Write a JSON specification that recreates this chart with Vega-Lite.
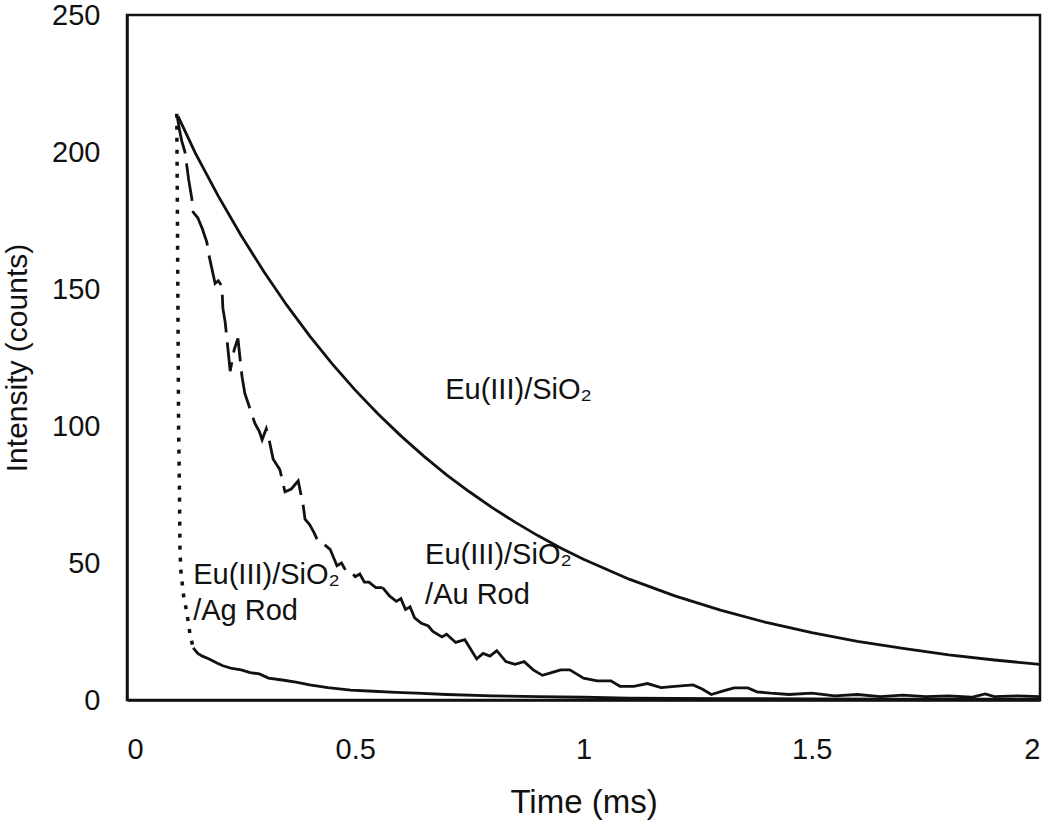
{
  "$schema": "https://vega.github.io/schema/vega-lite/v6.json",
  "width": 913,
  "height": 685,
  "autosize": "none",
  "padding": {"left": 127, "top": 15, "right": 10, "bottom": 124},
  "background": "white",
  "config": {
    "font": "Liberation Sans",
    "view": {"stroke": "#111", "strokeWidth": 2.5},
    "axis": {"grid": false, "domainColor": "#111", "domainWidth": 2.5, "ticks": false,
      "labelFont": "Liberation Sans", "titleFont": "Liberation Sans", "labelColor": "#111", "titleColor": "#111",
      "labelFontSize": 29, "titleFontSize": 33, "titleFontWeight": "normal"}
  },
  "datasets": {
    "curves": [
      {"series": "SiO2", "t": 0.112, "v": 213},
      {"series": "SiO2", "t": 0.15, "v": 199.5},
      {"series": "SiO2", "t": 0.2, "v": 183.9},
      {"series": "SiO2", "t": 0.25, "v": 169.5},
      {"series": "SiO2", "t": 0.3, "v": 156.3},
      {"series": "SiO2", "t": 0.35, "v": 144.1},
      {"series": "SiO2", "t": 0.4, "v": 132.9},
      {"series": "SiO2", "t": 0.45, "v": 122.6},
      {"series": "SiO2", "t": 0.5, "v": 113.1},
      {"series": "SiO2", "t": 0.55, "v": 104.4},
      {"series": "SiO2", "t": 0.6, "v": 96.4},
      {"series": "SiO2", "t": 0.65, "v": 89.0},
      {"series": "SiO2", "t": 0.7, "v": 82.2},
      {"series": "SiO2", "t": 0.75, "v": 76.0},
      {"series": "SiO2", "t": 0.8, "v": 70.2},
      {"series": "SiO2", "t": 0.85, "v": 64.9},
      {"series": "SiO2", "t": 0.9, "v": 60.0},
      {"series": "SiO2", "t": 0.95, "v": 55.5},
      {"series": "SiO2", "t": 1.0, "v": 51.4},
      {"series": "SiO2", "t": 1.1, "v": 44.1},
      {"series": "SiO2", "t": 1.2, "v": 38.0},
      {"series": "SiO2", "t": 1.3, "v": 32.8},
      {"series": "SiO2", "t": 1.4, "v": 28.3},
      {"series": "SiO2", "t": 1.5, "v": 24.6},
      {"series": "SiO2", "t": 1.6, "v": 21.4},
      {"series": "SiO2", "t": 1.7, "v": 18.8},
      {"series": "SiO2", "t": 1.8, "v": 16.5},
      {"series": "SiO2", "t": 1.9, "v": 14.6},
      {"series": "SiO2", "t": 2.0, "v": 13.0},

      {"series": "Au", "t": 0.11, "v": 213},
      {"series": "Au", "t": 0.115, "v": 208},
      {"series": "Au", "t": 0.12, "v": 204},
      {"series": "Au", "t": 0.127, "v": 200},
      {"series": "Au", "t": 0.135, "v": 190},
      {"series": "Au", "t": 0.142, "v": 183},
      {"series": "Au", "t": 0.145, "v": 178},
      {"series": "Au", "t": 0.155, "v": 176},
      {"series": "Au", "t": 0.165, "v": 172},
      {"series": "Au", "t": 0.175, "v": 167},
      {"series": "Au", "t": 0.18, "v": 162},
      {"series": "Au", "t": 0.193, "v": 152},
      {"series": "Au", "t": 0.2, "v": 153},
      {"series": "Au", "t": 0.208, "v": 151},
      {"series": "Au", "t": 0.21, "v": 143},
      {"series": "Au", "t": 0.215, "v": 138},
      {"series": "Au", "t": 0.22, "v": 130},
      {"series": "Au", "t": 0.226, "v": 120},
      {"series": "Au", "t": 0.235, "v": 128},
      {"series": "Au", "t": 0.243, "v": 132},
      {"series": "Au", "t": 0.248, "v": 124},
      {"series": "Au", "t": 0.252, "v": 118},
      {"series": "Au", "t": 0.258, "v": 112},
      {"series": "Au", "t": 0.27, "v": 106},
      {"series": "Au", "t": 0.28, "v": 101},
      {"series": "Au", "t": 0.29, "v": 98},
      {"series": "Au", "t": 0.296, "v": 95},
      {"series": "Au", "t": 0.305, "v": 99},
      {"series": "Au", "t": 0.31, "v": 96},
      {"series": "Au", "t": 0.32, "v": 88},
      {"series": "Au", "t": 0.335, "v": 84},
      {"series": "Au", "t": 0.346, "v": 76},
      {"series": "Au", "t": 0.36, "v": 77},
      {"series": "Au", "t": 0.375, "v": 80},
      {"series": "Au", "t": 0.386, "v": 71},
      {"series": "Au", "t": 0.39, "v": 66},
      {"series": "Au", "t": 0.4, "v": 64},
      {"series": "Au", "t": 0.41, "v": 61},
      {"series": "Au", "t": 0.418, "v": 58},
      {"series": "Au", "t": 0.43, "v": 57},
      {"series": "Au", "t": 0.445, "v": 55},
      {"series": "Au", "t": 0.46, "v": 49},
      {"series": "Au", "t": 0.47, "v": 50},
      {"series": "Au", "t": 0.48, "v": 47},
      {"series": "Au", "t": 0.49, "v": 47},
      {"series": "Au", "t": 0.5, "v": 45},
      {"series": "Au", "t": 0.51, "v": 46},
      {"series": "Au", "t": 0.52, "v": 43},
      {"series": "Au", "t": 0.53, "v": 43},
      {"series": "Au", "t": 0.545, "v": 41},
      {"series": "Au", "t": 0.56, "v": 41},
      {"series": "Au", "t": 0.575, "v": 38},
      {"series": "Au", "t": 0.59, "v": 36},
      {"series": "Au", "t": 0.6, "v": 37},
      {"series": "Au", "t": 0.61, "v": 33},
      {"series": "Au", "t": 0.62, "v": 34},
      {"series": "Au", "t": 0.63, "v": 30},
      {"series": "Au", "t": 0.645, "v": 28},
      {"series": "Au", "t": 0.66, "v": 27},
      {"series": "Au", "t": 0.67, "v": 25},
      {"series": "Au", "t": 0.69, "v": 23},
      {"series": "Au", "t": 0.7, "v": 24},
      {"series": "Au", "t": 0.72, "v": 21},
      {"series": "Au", "t": 0.74, "v": 22},
      {"series": "Au", "t": 0.755, "v": 18},
      {"series": "Au", "t": 0.766, "v": 15},
      {"series": "Au", "t": 0.78, "v": 17},
      {"series": "Au", "t": 0.795, "v": 16},
      {"series": "Au", "t": 0.81, "v": 18},
      {"series": "Au", "t": 0.83, "v": 14},
      {"series": "Au", "t": 0.85, "v": 13},
      {"series": "Au", "t": 0.87, "v": 14},
      {"series": "Au", "t": 0.89, "v": 11},
      {"series": "Au", "t": 0.91, "v": 9},
      {"series": "Au", "t": 0.93, "v": 10},
      {"series": "Au", "t": 0.95, "v": 11},
      {"series": "Au", "t": 0.97, "v": 11},
      {"series": "Au", "t": 0.99, "v": 9},
      {"series": "Au", "t": 1.0, "v": 8},
      {"series": "Au", "t": 1.03, "v": 7},
      {"series": "Au", "t": 1.06, "v": 7},
      {"series": "Au", "t": 1.08, "v": 5},
      {"series": "Au", "t": 1.11, "v": 5},
      {"series": "Au", "t": 1.14, "v": 6},
      {"series": "Au", "t": 1.17, "v": 4.5},
      {"series": "Au", "t": 1.2, "v": 5},
      {"series": "Au", "t": 1.24, "v": 5.5},
      {"series": "Au", "t": 1.26, "v": 4},
      {"series": "Au", "t": 1.28, "v": 2},
      {"series": "Au", "t": 1.31, "v": 3.5},
      {"series": "Au", "t": 1.33, "v": 4.4},
      {"series": "Au", "t": 1.36, "v": 4.4},
      {"series": "Au", "t": 1.38, "v": 3},
      {"series": "Au", "t": 1.41, "v": 2.5},
      {"series": "Au", "t": 1.45, "v": 2},
      {"series": "Au", "t": 1.5, "v": 2.5},
      {"series": "Au", "t": 1.55, "v": 1.5},
      {"series": "Au", "t": 1.6, "v": 2},
      {"series": "Au", "t": 1.65, "v": 1.2},
      {"series": "Au", "t": 1.7, "v": 1.8},
      {"series": "Au", "t": 1.75, "v": 1.2},
      {"series": "Au", "t": 1.8, "v": 1.5},
      {"series": "Au", "t": 1.85, "v": 1},
      {"series": "Au", "t": 1.88, "v": 2.2},
      {"series": "Au", "t": 1.9, "v": 1.2},
      {"series": "Au", "t": 1.95, "v": 1.5},
      {"series": "Au", "t": 2.0, "v": 1.2},

      {"series": "Ag", "t": 0.109, "v": 214},
      {"series": "Ag", "t": 0.11, "v": 190},
      {"series": "Ag", "t": 0.111, "v": 160},
      {"series": "Ag", "t": 0.112, "v": 130},
      {"series": "Ag", "t": 0.113, "v": 100},
      {"series": "Ag", "t": 0.115, "v": 75},
      {"series": "Ag", "t": 0.116, "v": 55},
      {"series": "Ag", "t": 0.118, "v": 47},
      {"series": "Ag", "t": 0.124, "v": 38},
      {"series": "Ag", "t": 0.131, "v": 32},
      {"series": "Ag", "t": 0.138, "v": 24},
      {"series": "Ag", "t": 0.145, "v": 19},
      {"series": "Ag", "t": 0.155, "v": 17},
      {"series": "Ag", "t": 0.165, "v": 16},
      {"series": "Ag", "t": 0.18, "v": 15},
      {"series": "Ag", "t": 0.197, "v": 13.5},
      {"series": "Ag", "t": 0.21, "v": 12.5},
      {"series": "Ag", "t": 0.23, "v": 11.5},
      {"series": "Ag", "t": 0.25, "v": 11},
      {"series": "Ag", "t": 0.27, "v": 10},
      {"series": "Ag", "t": 0.29, "v": 9.5},
      {"series": "Ag", "t": 0.31, "v": 8},
      {"series": "Ag", "t": 0.34, "v": 7.3},
      {"series": "Ag", "t": 0.37, "v": 6.5},
      {"series": "Ag", "t": 0.4, "v": 5.5},
      {"series": "Ag", "t": 0.44, "v": 4.5},
      {"series": "Ag", "t": 0.49, "v": 3.6},
      {"series": "Ag", "t": 0.54, "v": 3.2},
      {"series": "Ag", "t": 0.59, "v": 2.8},
      {"series": "Ag", "t": 0.635, "v": 2.5},
      {"series": "Ag", "t": 0.7, "v": 2.0},
      {"series": "Ag", "t": 0.8, "v": 1.5},
      {"series": "Ag", "t": 0.9, "v": 1.2},
      {"series": "Ag", "t": 1.0, "v": 1.0},
      {"series": "Ag", "t": 1.1, "v": 0.7},
      {"series": "Ag", "t": 1.3, "v": 0.5},
      {"series": "Ag", "t": 1.5, "v": 0.4},
      {"series": "Ag", "t": 1.7, "v": 0.3},
      {"series": "Ag", "t": 2.0, "v": 0.3}
    ],
    "labels": [
      {"text": "Eu(III)/SiO₂", "t": 0.697, "v": 113},
      {"text": "Eu(III)/SiO₂", "t": 0.653, "v": 53},
      {"text": "/Au Rod", "t": 0.653, "v": 38.3},
      {"text": "Eu(III)/SiO₂", "t": 0.145, "v": 45.6},
      {"text": "/Ag Rod", "t": 0.145, "v": 32.5}
    ]
  },
  "encoding": {
    "x": {"field": "t", "type": "quantitative", "scale": {"domain": [0, 2], "nice": false},
      "axis": {"values": [0, 0.5, 1, 1.5, 2], "labelExpr": "datum.value", "title": "Time (ms)", "labelPadding": 35, "titlePadding": 22}},
    "y": {"field": "v", "type": "quantitative", "scale": {"domain": [0, 250], "nice": false},
      "axis": {"values": [0, 50, 100, 150, 200, 250], "title": "Intensity (counts)", "titleFontSize": 30, "labelPadding": 27, "titlePadding": 19}}
  },
  "layer": [
    {"data": {"name": "curves"}, "transform": [{"filter": "datum.series == 'SiO2'"}],
      "mark": {"type": "line", "color": "#111", "strokeWidth": 2.8}, "encoding": {"order": {"field": "t"}}},
    {"data": {"name": "curves"}, "transform": [{"filter": "datum.series == 'Au' && datum.t <= 0.56"}],
      "mark": {"type": "line", "color": "#111", "strokeWidth": 2.8, "strokeDash": [38, 10]}, "encoding": {"order": {"field": "t"}}},
    {"data": {"name": "curves"}, "transform": [{"filter": "datum.series == 'Au' && datum.t >= 0.56"}],
      "mark": {"type": "line", "color": "#111", "strokeWidth": 2.8}, "encoding": {"order": {"field": "t"}}},
    {"data": {"name": "curves"}, "transform": [{"filter": "datum.series == 'Ag' && datum.t <= 0.145"}],
      "mark": {"type": "line", "color": "#111", "strokeWidth": 3.5, "strokeDash": [4, 8]}, "encoding": {"order": {"field": "t"}}},
    {"data": {"name": "curves"}, "transform": [{"filter": "datum.series == 'Ag' && datum.t >= 0.145"}],
      "mark": {"type": "line", "color": "#111", "strokeWidth": 2.8}, "encoding": {"order": {"field": "t"}}},
    {"data": {"name": "labels"},
      "mark": {"type": "text", "align": "left", "baseline": "middle", "fontSize": 29, "font": "Liberation Sans", "color": "#111"},
      "encoding": {"text": {"field": "text"}}}
  ]
}
